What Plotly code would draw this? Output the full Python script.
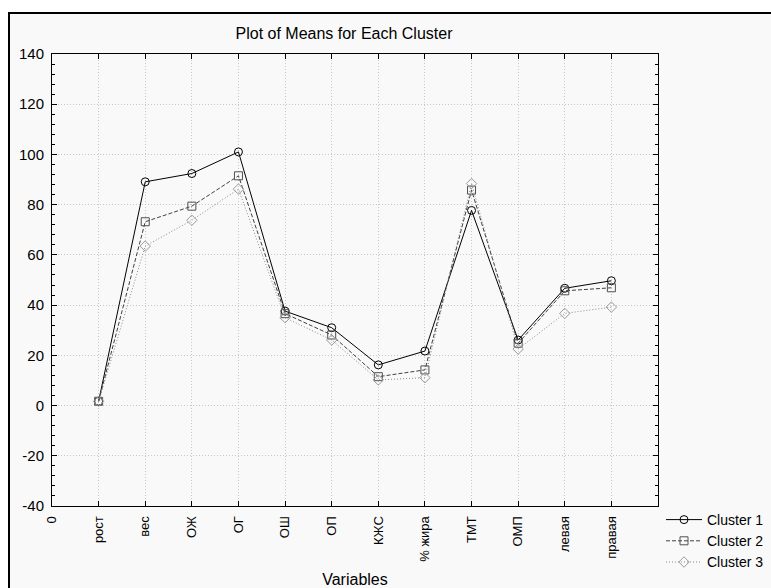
import plotly.graph_objects as go

categories = ["рост", "вес", "ОЖ", "ОГ", "ОШ", "ОП", "КЖС", "% жира", "ТМТ", "ОМП", "левая", "правая"]
tick_labels = ["0"] + categories
y_ticks = [-40, -20, 0, 20, 40, 60, 80, 100, 120, 140]
y_tick_labels = ["-40", "-20", "0", "20", "40", "60", "80", "100", "120", "140"]
cluster1 = [1.7, 89.1, 92.4, 101.0, 37.6, 31.0, 16.2, 21.7, 77.7, 26.1, 46.7, 49.7]
cluster2 = [1.7, 73.2, 79.4, 91.5, 36.6, 28.1, 11.5, 14.2, 85.8, 24.8, 45.7, 46.9]
cluster3 = [1.7, 63.5, 73.8, 86.2, 35.0, 26.1, 10.2, 11.1, 88.4, 22.5, 36.7, 39.2]
series_names = ["Cluster 1", "Cluster 2", "Cluster 3"]

xpos = list(range(1, len(categories) + 1))
FONT = "Liberation Sans, Arial, sans-serif"

styles = [
    dict(color="#000000", dash="solid", symbol="circle-open", mcolor="#000000"),
    dict(color="#404040", dash="4px,2px", symbol="square-open", mcolor="#505050"),
    dict(color="#8a8a8a", dash="1px,2px", symbol="diamond-open", mcolor="#9a9a9a"),
]

fig = go.Figure()
for name, vals, st in zip(series_names, [cluster1, cluster2, cluster3], styles):
    fig.add_trace(go.Scatter(
        x=xpos, y=vals, name=name, mode="lines+markers",
        line=dict(color=st["color"], width=1, dash=st["dash"]),
        marker=dict(symbol=st["symbol"], size=8, color=st["mcolor"],
                    line=dict(width=1, color=st["mcolor"])),
    ))

W, H = 771, 588
L, R, T, B = 52, 658, 54, 506
pw, ph = R - L, B - T

def px_x(x):
    return (x - L) / pw

def px_y(y):
    return (B - y) / ph

fig.add_shape(type="rect", xref="paper", yref="paper",
              x0=px_x(9), x1=px_x(800), y0=px_y(13), y1=px_y(620),
              line=dict(color="black", width=2), fillcolor="#f9f9f9", layer="below")

GRID = "#c8c8c8"
fig.update_layout(
    width=W, height=H,
    margin=dict(l=L, r=W - R, t=T, b=H - B, pad=0, autoexpand=False),
    paper_bgcolor="white", plot_bgcolor="white",
    font=dict(family=FONT, color="black", size=14),
    title=dict(text="Plot of Means for Each Cluster", x=px_x(344), xref="paper",
               xanchor="center", y=1 - 33 / H, yref="container", yanchor="middle",
               font=dict(size=16, family=FONT, color="black")),
    showlegend=True,
    legend=dict(x=px_x(661), xanchor="left", y=px_y(504), yanchor="top",
                bgcolor="rgba(0,0,0,0)", font=dict(size=14, family=FONT),
                itemwidth=36, tracegroupgap=0),
    xaxis=dict(
        range=[0, 13], tickmode="array", tickvals=list(range(0, len(tick_labels))),
        ticktext=tick_labels, tickangle=-90, tickfont=dict(size=13, family=FONT),
        ticks="inside", ticklen=5, tickcolor="black", ticklabelstandoff=4,
        showline=True, linecolor="black", linewidth=1, mirror="ticks",
        showgrid=True, gridcolor=GRID, griddash="1px,2px", gridwidth=1,
        zeroline=False, automargin=False,
        title=dict(text="Variables", font=dict(size=16, family=FONT), standoff=17),
    ),
    yaxis=dict(
        range=[-40, 140], tickmode="array", tickvals=y_ticks, ticktext=y_tick_labels,
        tickfont=dict(size=15, family=FONT), ticklabelstandoff=4,
        ticks="inside", ticklen=5, tickcolor="black",
        minor=dict(dtick=4, tick0=0, ticks="inside", ticklen=3, tickcolor="black", showgrid=False),
        showline=True, linecolor="black", linewidth=1, mirror="ticks",
        showgrid=True, gridcolor=GRID, griddash="1px,2px", gridwidth=1,
        zeroline=False, automargin=False,
    ),
)

fig.write_html("out.html", config={"displayModeBar": False},
               post_script="document.body.style.margin='0px';")
